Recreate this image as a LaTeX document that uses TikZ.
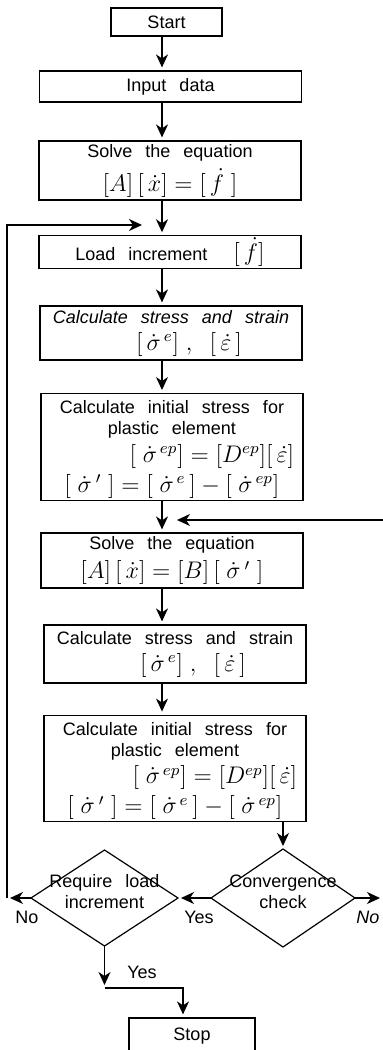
\documentclass[tikz,border=0pt]{standalone}
\usepackage{amsmath}
\usepackage{fontspec}
\setmainfont[WordSpace=2.6]{Liberation Sans}
\usepackage{tikz}
\usetikzlibrary{shapes,arrows.meta,positioning,calc}
\tikzstyle{arr}      =[-{Stealth[length=6.5pt,width=6pt,inset=2pt]}, line width=0.6pt, shorten >=1.5pt]
\tikzstyle{procbox}  =[draw, line width=0.6pt, minimum width=131pt, inner sep=1pt, align=center]
\tikzstyle{decision} =[draw, diamond, line width=0.6pt, inner sep=0pt, outer sep=0pt]
\newcommand{\eqfont}{\fontsize{12}{12}\selectfont}
\newcommand{\dtext}[1]{\makebox[0pt]{\smash{\begin{tabular}{@{}c@{}}#1\end{tabular}}}}
\newcommand{\sdp}{\dot{\sigma}\,{}^{\prime}}

\begin{document}
\begin{tikzpicture}[x=0.5pt, y=-0.5pt, every node/.style={font=\fontsize{9}{10.5}\selectfont}]
  \useasboundingbox (0,0) rectangle (383,1050);

  % ── main column ────────────────────────────────────────────────────────────
  \coordinate (axis) at (162,0);

  \node[procbox, minimum width=55.5pt, minimum height=14pt] (start) at (166.5,22) {Start};
  \node[procbox, minimum height=15.5pt] (input) at (170.5,86.5) {Input data};
  \node[procbox, minimum height=29.5pt] (solveA) at (170,170.5)
    {Solve the equation\\[3pt] {\eqfont $[A]\,[\,\dot{x}]=[\,\dot{f}\;]$}};
  \node[procbox, minimum height=16pt] (load) at (170,252) {Load increment \ {\eqfont $[\,\dot{f}]$}};
  \node[procbox, minimum height=27pt] (calcA) at (171,333)
    {{\itshape Calculate stress and strain}\\[3pt] \hspace*{18pt}{\eqfont $[\,\dot{\sigma}^{\,e}]\;,\;\;[\,\dot{\varepsilon}\,]$}};
  \node[procbox, minimum height=48pt] (initA) at (172,447)
    {\rule{0pt}{9pt}Calculate initial stress for\\ plastic element\\[2pt]
     \hspace*{40pt}{\eqfont $[\;\dot{\sigma}^{\,ep}]=[D^{ep}][\,\dot{\varepsilon}]$}\\[2pt]
     {\eqfont $[\;\sdp\;]=[\;\dot{\sigma}^{\,e}\,]-[\;\dot{\sigma}^{\,ep}]$}};
  \node[procbox, minimum height=27.5pt] (solveB) at (172,560.5)
    {Solve the equation\\[3pt] {\eqfont $[A]\,[\,\dot{x}]=[B]\,[\;\sdp\;]$}};
  \node[procbox, minimum height=29pt] (calcB) at (175,654)
    {Calculate stress and strain\\[3pt] \hspace*{18pt}{\eqfont $[\,\dot{\sigma}^{\,e}]\;,\;\;[\,\dot{\varepsilon}\,]$}};
  \node[procbox, minimum height=48.5pt] (initB) at (175,768.5)
    {\rule{0pt}{9pt}Calculate initial stress for\\ plastic element\\[2pt]
     \hspace*{40pt}{\eqfont $[\;\dot{\sigma}^{\,ep}]=[D^{ep}][\,\dot{\varepsilon}]$}\\[2pt]
     {\eqfont $[\;\sdp\;]=[\;\dot{\sigma}^{\,e}\,]-[\;\dot{\sigma}^{\,ep}]$}};

  % ── decisions ──────────────────────────────────────────────────────────────
  \node[decision, minimum width=72pt, minimum height=49pt] (conv) at (283,898)
    {\dtext{Convergence\\check}};
  \node[decision, minimum width=73.5pt, minimum height=48pt] (req) at (104.5,898)
    {\dtext{Require load\\increment}};
  \node[procbox, minimum width=63pt, minimum height=18pt] (stop) at (192,1036) {Stop};

  % ── connectors ─────────────────────────────────────────────────────────────
  \draw[arr] (start.south -| axis) -- (input.north -| axis);
  \draw[arr] (input.south -| axis) -- (solveA.north -| axis);
  \draw[arr] (solveA.south -| axis) -- (load.north -| axis);
  \draw[arr] (load.south -| axis) -- (calcA.north -| axis);
  \draw[arr] (calcA.south -| axis) -- (initA.north -| axis);
  \draw[arr] (initA.south -| axis) -- (solveB.north -| axis);
  \draw[arr] (solveB.south -| axis) -- (calcB.north -| axis);
  \draw[arr] (calcB.south -| axis) -- (initB.north -| axis);
  \draw[arr] (initB.south -| conv.north) -- (conv.north);

  \coordinate (fbR) at (383,520);
  \coordinate (fbTip) at (174,520);
  \draw[arr] (fbR) -- (fbTip);

  \coordinate (convR) at (383,898);
  \draw[arr] (conv.east) -- (convR);
  \draw[arr] (conv.west) -- (req.east);

  \coordinate (loopB) at (7,898);
  \coordinate (loopT) at (7,225);
  \coordinate (loadIn) at (145,225);
  \draw[arr] (req.west) -- (loopB);
  \draw[arr] (loopB) -- (loopT) -- (loadIn);

  \coordinate (yesbend) at (104.5,988);
  \draw[arr] (req.south) -- (yesbend);
  \draw[arr] (yesbend) -| ($(stop.north)+(-4.5pt,0)$);

  % ── branch labels ──────────────────────────────────────────────────────────
  \node (noReq) at (27,917) {No};
  \node (yesConv) at (199,917) {Yes};
  \node[font=\fontsize{9}{10.5}\selectfont\itshape] (noConv) at (368,917) {No};
  \node (yesReq) at (142,972) {Yes};

\end{tikzpicture}
\end{document}
